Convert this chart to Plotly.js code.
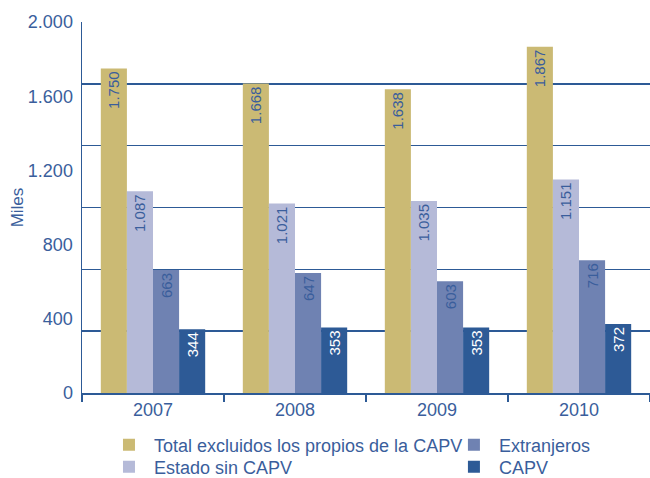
<!DOCTYPE html>
<html><head><meta charset="utf-8">
<script src="https://cdn.plot.ly/plotly-3.0.1.min.js"></script>
<style>body{margin:0;background:#fff}#c{width:650px;height:478px}</style>
</head><body><div id="c"></div>
<script>
const years = ['2007','2008','2009','2010'];
const seriesNames = ['Total excluidos los propios de la CAPV','Estado sin CAPV','Extranjeros','CAPV'];
const totalExcl = [1750,1668,1638,1867];
const estadoSinCapv = [1087,1021,1035,1151];
const extranjeros = [663,647,603,716];
const capv = [344,353,353,372];
const yTickVals = [0,400,800,1200,1600,2000];
const gridVals = [333.33,666.67,1000,1333.33,1666.67,2000];

const colors = ['#CBBA74','#B5BAD8','#6F82B2','#2D5A96'];
const textColors = ['#3A5E9C','#3A5E9C','#3A5E9C','#FFFFFF'];
const legendIds = ['legend','legend2','legend3','legend4'];
const values = [totalExcl, estadoSinCapv, extranjeros, capv];
const font = 'Liberation Sans, Arial, sans-serif';
const blue = '#2D5A96';
const txt = '#3A5E9C';

const traces = values.map((v,i)=>({
  type:'bar', x:years, y:v, name:seriesNames[i], legend:legendIds[i],
  marker:{color:colors[i], line:{width:0}},
  texttemplate:'%{y:,d}', textposition:'inside', insidetextanchor:'end',
  textangle:-90, textfont:{family:font,size:15,color:textColors[i]},
  constraintext:'none', hoverinfo:'skip'
}));
// invisible trace on overlay axis for gridlines
traces.push({type:'scatter', x:years, y:[null,null,null,null], yaxis:'y2', showlegend:false, hoverinfo:'skip'});

const legBase = {orientation:'v', yanchor:'middle', xanchor:'left',
  font:{family:font,size:18,color:txt}, itemclick:false,
  bgcolor:'rgba(0,0,0,0)', itemwidth:40};
const colX = [0.0387, 0.646];
const rowY = [-0.1402, -0.1995];

const layout = {
  width:650, height:478,
  margin:{l:82, r:0, t:22, b:85, autoexpand:false},
  separators:',.',
  paper_bgcolor:'#fff', plot_bgcolor:'#fff',
  font:{family:font, color:txt, size:18},
  barmode:'group', bargap:0.265, bargroupgap:0,
  showlegend:true,
  legend:Object.assign({}, legBase, {x:colX[0], y:rowY[0]}),
  legend2:Object.assign({}, legBase, {x:colX[0], y:rowY[1]}),
  legend3:Object.assign({}, legBase, {x:colX[1], y:rowY[0]}),
  legend4:Object.assign({}, legBase, {x:colX[1], y:rowY[1]}),
  xaxis:{type:'category', showline:true, linecolor:blue, linewidth:1.5,
    ticks:'outside', tickson:'boundaries', ticklen:7, tickcolor:blue, tickwidth:1.5,
    tickfont:{family:font,size:18,color:txt}, showgrid:false, fixedrange:true},
  yaxis:{range:[0,2000], tickvals:yTickVals, tickformat:',d', showgrid:false, zeroline:false,
    showline:true, linecolor:blue, linewidth:1.5, ticks:'', ticklabelstandoff:4,
    tickfont:{family:font,size:18,color:txt},
    title:{text:'Miles', font:{family:font,size:17,color:txt}, standoff:0}, fixedrange:true},
  yaxis2:{overlaying:'y', range:[0,2000], tickvals:gridVals, showticklabels:false, showgrid:true,
    gridcolor:blue, gridwidth:1.5, zeroline:false, side:'right', ticks:'', fixedrange:true}
};
Plotly.newPlot('c', traces, layout, {displayModeBar:false, staticPlot:true});
</script></body></html>
